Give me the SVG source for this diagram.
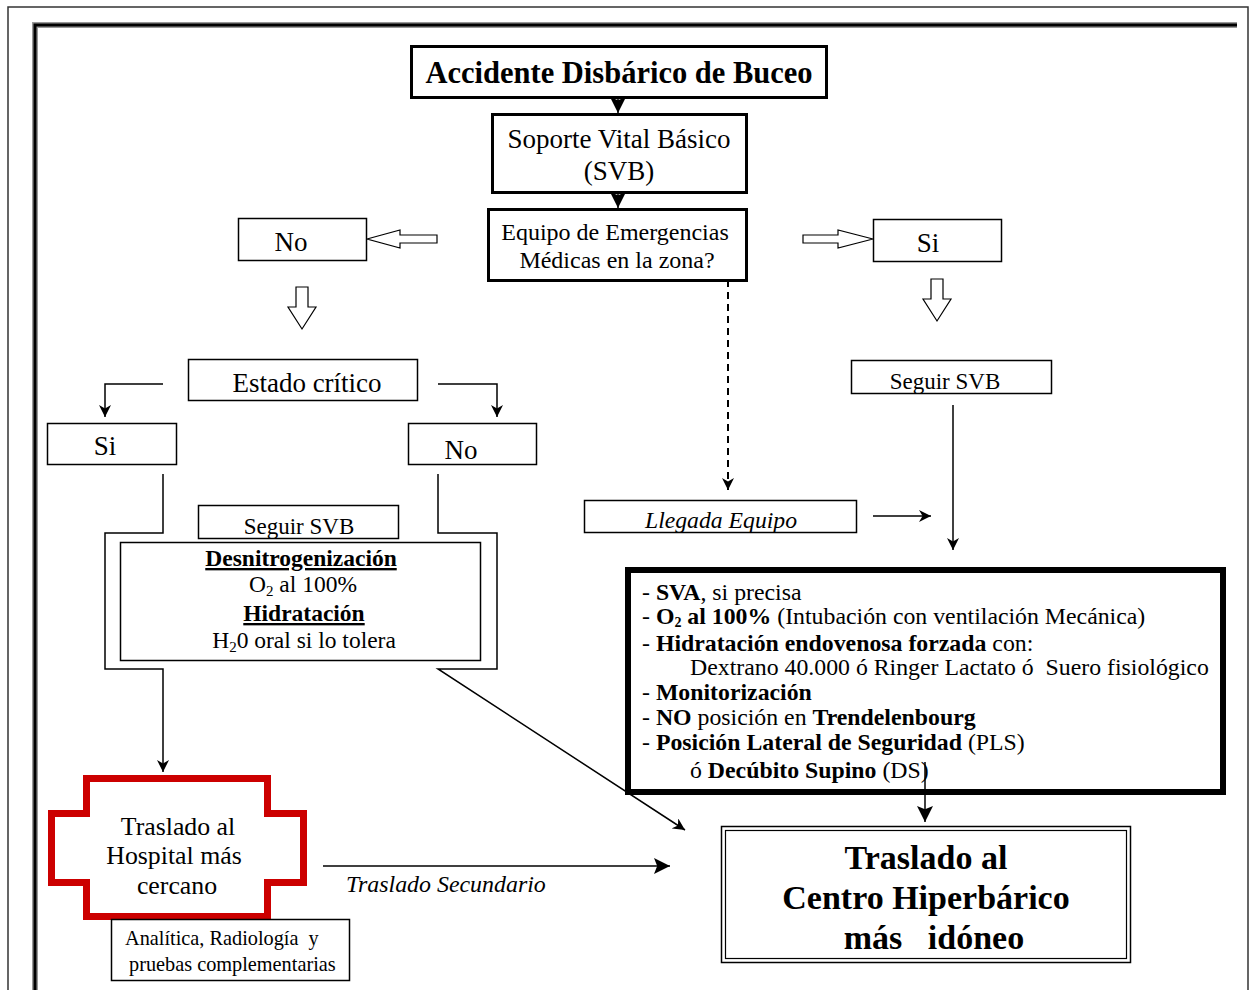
<svg xmlns="http://www.w3.org/2000/svg" width="1250" height="990" viewBox="0 0 1250 990">
<defs>
<style>
text{font-family:"Liberation Serif","Times New Roman",serif;fill:#000}
.box{fill:#fff;stroke:#000;stroke-width:1.5}
.tbox{fill:#fff;stroke:#000;stroke-width:3}
.hollow{fill:#fff;stroke:#000;stroke-width:1.2}
.ln{fill:none;stroke:#000;stroke-width:1.5}
.c{text-anchor:middle}
.b{font-weight:bold}
.i{font-style:italic}
</style>
<marker id="ah" viewBox="0 0 10 10" refX="10" refY="5" markerWidth="12" markerHeight="12" markerUnits="userSpaceOnUse" orient="auto"><path d="M0,0 L10,5 L0,10 L3,5 Z" fill="#000"/></marker>
<marker id="ahb" viewBox="0 0 10 10" refX="10" refY="5" markerWidth="16" markerHeight="16" markerUnits="userSpaceOnUse" orient="auto"><path d="M0,0 L10,5 L0,10 L2,5 Z" fill="#000"/></marker>
</defs>
<rect width="1250" height="990" fill="#fff"/>
<g id="frame">
<path d="M8,990 V7 H1248 V990" fill="none" stroke="#333" stroke-width="1.5"/>
<path d="M35,990 V25 H1237" fill="none" stroke="#999" stroke-width="6"/>
<path d="M35,990 V25 H1237" fill="none" stroke="#000" stroke-width="3"/>
</g>
<g id="connectors">
<line x1="618" y1="98" x2="618" y2="113" class="ln" stroke-width="3" marker-end="url(#ahb)"/>
<line x1="618" y1="193" x2="618" y2="208" class="ln" stroke-width="3" marker-end="url(#ahb)"/>
<polygon class="hollow" points="367,239 400,230 400,235 437,235 437,243 400,243 400,248"/>
<polygon class="hollow" points="803,235 838,235 838,230 873,239 838,248 838,243 803,243"/>
<polygon class="hollow" points="296,287 308,287 308,307 316,307 302,329 288,307 296,307"/>
<polygon class="hollow" points="931,279 943,279 943,299 951,299 937,321 923,299 931,299"/>
<polyline class="ln" points="163,384 105,384 105,417" marker-end="url(#ah)"/>
<polyline class="ln" points="438,384 497,384 497,417" marker-end="url(#ah)"/>
<polyline class="ln" points="163,474 163,533 105,533 105,669 163,669 163,772" marker-end="url(#ah)"/>
<polyline class="ln" points="438,474 438,533 497,533 497,669 438,669 685,830" marker-end="url(#ah)"/>
<line x1="728" y1="268" x2="728" y2="490" stroke="#000" stroke-width="2" stroke-dasharray="7,5" marker-end="url(#ah)"/>
<line x1="873" y1="516" x2="931" y2="516" class="ln" marker-end="url(#ah)"/>
<line x1="953" y1="405" x2="953" y2="550" class="ln" marker-end="url(#ah)"/>
<line x1="323" y1="866" x2="670" y2="866" class="ln" stroke-width="3" marker-end="url(#ahb)"/>
</g>
<g id="accidente">
<rect class="tbox" x="411.5" y="46.5" width="415" height="51"/>
<text x="619" y="83" class="c b" font-size="30.5">Accidente Disbárico de Buceo</text>
</g>
<g id="svb">
<rect class="tbox" x="492.5" y="114.5" width="254" height="78"/>
<text x="619" y="148" class="c" font-size="27">Soporte Vital Básico</text>
<text x="619" y="180" class="c" font-size="27">(SVB)</text>
</g>
<g id="equipo">
<rect class="tbox" x="488.5" y="209.5" width="258" height="71"/>
<text x="615" y="240" class="c" font-size="24">Equipo de Emergencias</text>
<text x="617" y="268" class="c" font-size="24">Médicas en la zona?</text>
</g>
<g id="no-top">
<rect class="box" x="238.5" y="218.5" width="128" height="42"/>
<text x="291" y="251" class="c" font-size="27">No</text>
</g>
<g id="si-top">
<rect class="box" x="873.5" y="219.5" width="128" height="42"/>
<text x="928" y="252" class="c" font-size="27">Si</text>
</g>
<g id="estado-critico">
<rect class="box" x="188.5" y="359.5" width="229" height="41"/>
<text x="307" y="392" class="c" font-size="27">Estado crítico</text>
</g>
<g id="si-left">
<rect class="box" x="47.5" y="423.5" width="129" height="41"/>
<text x="105" y="455" class="c" font-size="27">Si</text>
</g>
<g id="no-left">
<rect class="box" x="408.5" y="423.5" width="128" height="41"/>
<text x="461" y="459" class="c" font-size="27">No</text>
</g>
<g id="seguir-svb-right">
<rect class="box" x="851.5" y="360.5" width="200" height="33"/>
<text x="945" y="389" class="c" font-size="23">Seguir SVB</text>
</g>
<g id="seguir-svb-left">
<rect class="box" x="198.5" y="505.5" width="200" height="33"/>
<text x="299" y="534" class="c" font-size="23">Seguir SVB</text>
</g>
<g id="desnitrogenizacion">
<rect class="box" x="120.5" y="542.5" width="360" height="118"/>
<text x="301" y="566" class="c b" font-size="23.5" text-decoration="underline">Desnitrogenización</text>
<text x="303" y="592" class="c" font-size="23.5">O<tspan font-size="15" dy="4">2</tspan><tspan dy="-4"> al 100%</tspan></text>
<text x="304" y="621" class="c b" font-size="23.5" text-decoration="underline">Hidratación</text>
<text x="304" y="648" class="c" font-size="23.5">H<tspan font-size="15" dy="4">2</tspan><tspan dy="-4">0 oral si lo tolera</tspan></text>
</g>
<g id="llegada-equipo">
<rect class="box" x="584.5" y="500.5" width="272" height="32"/>
<text x="721" y="528" class="c i" font-size="23.7">Llegada Equipo</text>
</g>
<g id="sva">
<rect x="628" y="570" width="595" height="222" fill="#fff" stroke="#000" stroke-width="6"/>
<g font-size="23.8">
<text x="642" y="600">- <tspan class="b">SVA</tspan>, si precisa</text>
<text x="642" y="624">- <tspan class="b">O<tspan font-size="14" dy="3">2</tspan><tspan dy="-3"> al 100%</tspan></tspan> (Intubación con ventilación Mecánica)</text>
<text x="642" y="651">- <tspan class="b">Hidratación endovenosa forzada</tspan> con:</text>
<text x="690" y="675" xml:space="preserve">Dextrano 40.000 ó Ringer Lactato ó  Suero fisiológico</text>
<text x="642" y="700">- <tspan class="b">Monitorización</tspan></text>
<text x="642" y="725">- <tspan class="b">NO</tspan> posición en <tspan class="b">Trendelenbourg</tspan></text>
<text x="642" y="750">- <tspan class="b">Posición Lateral de Seguridad</tspan> (PLS)</text>
<text x="690" y="778">ó <tspan class="b">Decúbito Supino</tspan> (DS)</text>
</g>
<line x1="925" y1="762" x2="925" y2="822" class="ln" stroke-width="3" marker-end="url(#ahb)"/>
</g>
<g id="centro-hiperbarico">
<rect x="721.5" y="826.5" width="409" height="136" fill="#fff" stroke="#000" stroke-width="1.5"/>
<rect x="725.5" y="830.5" width="401" height="128" fill="none" stroke="#000" stroke-width="1.2"/>
<text x="926" y="869" class="c b" font-size="34">Traslado al</text>
<text x="926" y="909" class="c b" font-size="34">Centro Hiperbárico</text>
<text x="934" y="949" class="c b" font-size="34" xml:space="preserve">más   idóneo</text>
</g>
<g id="hospital">
<path d="M86.5,778.5 H267.5 V813.5 H303.5 V882.5 H267.5 V916.5 H86.5 V882.5 H51.5 V813.5 H86.5 Z" fill="#fff" stroke="#CC0000" stroke-width="7"/>
<text x="178" y="835" class="c" font-size="25.8">Traslado al</text>
<text x="174" y="864" class="c" font-size="25.8">Hospital más</text>
<text x="177" y="894" class="c" font-size="25.8">cercano</text>
</g>
<g id="analitica">
<rect class="box" x="111.5" y="919.5" width="238" height="61"/>
<text x="125" y="945" font-size="20.3" xml:space="preserve">Analítica, Radiología  y</text>
<text x="129" y="971" font-size="20.3">pruebas complementarias</text>
</g>
<g id="traslado-secundario">
<text x="346" y="892" class="i" font-size="23.9">Traslado Secundario</text>
</g>
</svg>
